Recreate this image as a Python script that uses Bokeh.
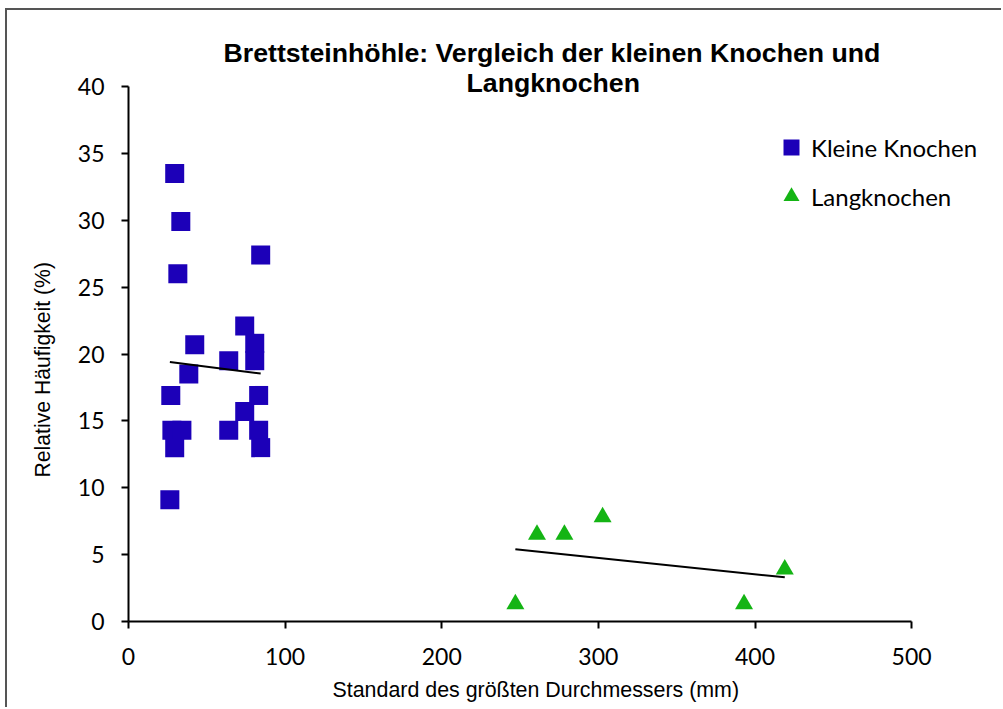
import numpy as np
from bokeh.plotting import figure
from bokeh.models import Range1d, FixedTicker, Legend, LegendItem, Title
from bokeh.embed import file_html
from bokeh.resources import INLINE

# ---- data ----
kleine_x = [29.5, 33.4, 84.4, 31.5, 74.2, 80.6, 80.6, 42.3, 64.0, 38.5,
            27.0, 83.1, 74.2, 27.7, 34.1, 64.0, 83.1, 29.5, 84.4, 26.4]
kleine_y = [33.5, 29.9, 27.4, 26.0, 22.1, 20.8, 19.5, 20.7, 19.5, 18.5,
            16.9, 16.9, 15.7, 14.3, 14.3, 14.3, 14.3, 13.0, 13.0, 9.1]
lang_x = [247.0, 260.8, 278.3, 302.7, 393.0, 419.0]
lang_y = [1.3, 6.5, 6.5, 7.8, 1.3, 3.9]

series_names = ["Kleine Knochen", "Langknochen"]
x_ticks = [0, 100, 200, 300, 400, 500]
y_ticks = [0, 5, 10, 15, 20, 25, 30, 35, 40]
title_line1 = "Brettsteinhöhle: Vergleich der kleinen Knochen und"
title_line2 = "Langknochen"
x_label = "Standard des größten Durchmessers (mm)"
y_label = "Relative Häufigkeit (%)"

BLUE = "#1c00b8"
GREEN = "#14b414"

p = figure(width=996, height=699, output_backend="svg", toolbar_location=None,
           title=None,
           x_range=Range1d(0, 556.1), y_range=Range1d(0, 40),
           min_border_left=120, min_border_right=4,
           min_border_top=76, min_border_bottom=87)
p.styles = {"margin-left": "5px", "margin-top": "8px",
            "border-left": "2px solid #555555", "border-top": "2px solid #555555"}

p.background_fill_color = "white"
p.border_fill_color = "white"
p.outline_line_color = None
p.xgrid.visible = False
p.ygrid.visible = False

for ax in (p.xaxis[0], p.yaxis[0]):
    ax.axis_line_color = "black"
    ax.axis_line_width = 2
    ax.major_tick_line_color = "black"
    ax.major_tick_line_width = 2
    ax.major_tick_out = 7
    ax.major_tick_in = 0
    ax.minor_tick_line_color = None
    ax.major_label_text_font = "Lato"
    ax.major_label_text_font_size = "23px"
    ax.major_label_text_color = "black"

p.xaxis.ticker = FixedTicker(ticks=x_ticks)
p.yaxis.ticker = FixedTicker(ticks=y_ticks)
p.xaxis.bounds = (0, 500)
p.yaxis.bounds = (0, 40)
p.xaxis.major_label_standoff = 19
p.yaxis.major_label_standoff = 17

# main title: two centred lines (first added sits nearest the frame)
title_style = dict(align="left", text_font="Liberation Sans", text_font_style="bold",
                   text_font_size="26.7px", text_color="black")
p.add_layout(Title(text=title_line2, standoff=-22, offset=338, **title_style), "above")
p.add_layout(Title(text=title_line1, standoff=18, offset=95, **title_style), "above")

# axis titles
p.add_layout(Title(text=x_label, align="left", offset=204,
                   text_font="Liberation Sans", text_font_style="normal",
                   text_font_size="21.4px", text_color="black", standoff=16), "below")
p.add_layout(Title(text=y_label, align="left", offset=144,
                   text_font="Liberation Sans", text_font_style="normal",
                   text_font_size="21.2px", text_color="black", standoff=42), "left")

r1 = p.scatter(kleine_x, kleine_y, marker="square", size=19,
               fill_color=BLUE, line_color=None)
r2 = p.scatter(lang_x, lang_y, marker="triangle", size=18,
               fill_color=GREEN, line_color=None)

# linear trend lines (least squares), over each series' x range
for xs, ys in ((kleine_x, kleine_y), (lang_x, lang_y)):
    xa = np.array(xs)
    ya = np.array(ys)
    m, b = np.polyfit(xa, ya, 1)
    x0, x1 = xa.min(), xa.max()
    p.line([x0, x1], [m * x0 + b, m * x1 + b], line_color="black", line_width=2)

legend = Legend(items=[LegendItem(label=series_names[0], renderers=[r1]),
                       LegendItem(label=series_names[1], renderers=[r2])],
                location=(643, 405), orientation="vertical")
legend.glyph_width = 40
legend.glyph_height = 40
legend.label_standoff = 0
legend.spacing = 9
legend.padding = 0
legend.margin = 0
legend.border_line_color = None
legend.background_fill_alpha = 0
legend.label_text_font = "Lato"
legend.label_text_font_size = "24px"
legend.label_text_color = "black"
legend.label_text_baseline = "middle"
p.add_layout(legend, "center")

open("out.html", "w").write(file_html(p, INLINE))
